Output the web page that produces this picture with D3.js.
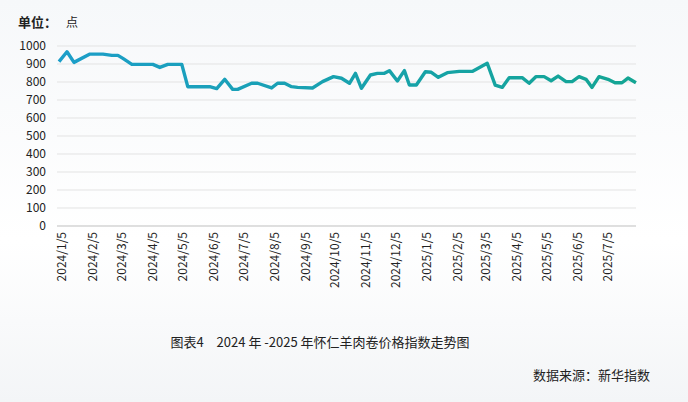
<!DOCTYPE html>
<html><head><meta charset="utf-8">
<script src="https://cdn.jsdelivr.net/npm/d3@7"></script>
<style>body{margin:0;background:#fff;font-family:"Noto Sans CJK SC","Noto Sans",sans-serif;}</style>
</head><body><div id="chart"></div>
<script>
const dates = ["2024-01-02","2024-01-10","2024-01-17","2024-02-02","2024-02-15","2024-02-24","2024-03-01","2024-03-06","2024-03-15","2024-04-05","2024-04-12","2024-04-20","2024-05-04","2024-05-10","2024-06-01","2024-06-08","2024-06-16","2024-06-24","2024-06-29","2024-07-13","2024-07-19","2024-08-02","2024-08-08","2024-08-15","2024-08-22","2024-08-28","2024-09-12","2024-09-22","2024-10-03","2024-10-11","2024-10-19","2024-10-25","2024-10-31","2024-11-09","2024-11-16","2024-11-23","2024-11-28","2024-12-06","2024-12-13","2024-12-18","2024-12-25","2025-01-03","2025-01-09","2025-01-16","2025-01-25","2025-02-06","2025-02-19","2025-03-06","2025-03-14","2025-03-21","2025-03-28","2025-04-10","2025-04-17","2025-04-24","2025-05-02","2025-05-09","2025-05-16","2025-05-24","2025-05-30","2025-06-06","2025-06-13","2025-06-19","2025-06-26","2025-07-05","2025-07-12","2025-07-19","2025-07-25","2025-08-02"];
const values = [913,968,909,955,955,948,948,931,898,898,881,898,898,774,774,763,815,759,759,793,793,767,793,793,774,770,767,802,830,821,793,848,765,839,848,848,863,806,863,783,783,857,854,826,852,859,859,904,783,770,824,824,793,830,830,807,833,802,802,830,815,770,830,815,796,796,822,796];
const tickLabels = ["2024/1/5","2024/2/5","2024/3/5","2024/4/5","2024/5/5","2024/6/5","2024/7/5","2024/8/5","2024/9/5","2024/10/5","2024/11/5","2024/12/5","2025/1/5","2025/2/5","2025/3/5","2025/4/5","2025/5/5","2025/6/5","2025/7/5"];
const yTicks = [0,100,200,300,400,500,600,700,800,900,1000];

const W = 688, H = 402;
const parse = d3.timeParse("%Y-%m-%d"), parseTick = d3.timeParse("%Y/%m/%d");
const data = dates.map((d,i)=>({date:parse(d), value:values[i]}));

const svg = d3.select("#chart").append("svg").attr("width",W).attr("height",H);
const bg = svg.append("defs").append("linearGradient").attr("id","bg").attr("x1",0).attr("y1",0).attr("x2",0).attr("y2",1);
bg.append("stop").attr("offset","0%").attr("stop-color","#f6f8fa");
bg.append("stop").attr("offset","60%").attr("stop-color","#ffffff");
bg.append("stop").attr("offset","100%").attr("stop-color","#f3f5f7");
svg.append("rect").attr("width",W).attr("height",H).attr("fill","url(#bg)");

const x = d3.scaleTime().domain([parseTick("2024/1/5"), parseTick("2025/7/5")]).range([62,608]);
const y = d3.scaleLinear().domain([0,1000]).range([226,46]);
const x0 = 57, x1 = 636;

svg.append("g").selectAll("line").data(yTicks).enter().append("line")
  .attr("x1",x0).attr("x2",x1).attr("y1",d=>y(d)).attr("y2",d=>y(d))
  .attr("stroke",d=>d===0?"#bfbfbf":"#e3e3e3").attr("stroke-width",1);

svg.append("g").selectAll("text").data(yTicks).enter().append("text")
  .attr("x",46).attr("y",d=>y(d)+4).attr("text-anchor","end")
  .attr("font-size",12).attr("fill","#222").text(d=>d);

svg.append("g").selectAll("text").data(tickLabels).enter().append("text")
  .attr("transform",d=>`translate(${x(parseTick(d))+4},232) rotate(-90)`)
  .attr("text-anchor","end").attr("font-size",12).attr("fill","#222").text(d=>d);

const lg = svg.select("defs").append("linearGradient").attr("id","lg")
  .attr("gradientUnits","userSpaceOnUse").attr("x1",x0).attr("x2",x1).attr("y1",0).attr("y2",0);
lg.append("stop").attr("offset","0%").attr("stop-color","#1c9ec9");
lg.append("stop").attr("offset","100%").attr("stop-color","#13a593");

svg.append("path").datum(data)
  .attr("d",d3.line().x(d=>x(d.date)).y(d=>y(d.value)))
  .attr("fill","none").attr("stroke","url(#lg)").attr("stroke-width",3.4).attr("stroke-linejoin","round");

svg.append("text").attr("x",18).attr("y",27).attr("font-size",13).attr("font-weight","bold").attr("fill","#222").text("单位：");
svg.append("text").attr("x",66).attr("y",27).attr("font-size",12).attr("fill","#222").text("点");
svg.append("text").attr("x",320).attr("y",347).attr("text-anchor","middle").attr("font-size",13).attr("fill","#222").text("图表4　2024 年 -2025 年怀仁羊肉卷价格指数走势图");
svg.append("text").attr("x",650).attr("y",380).attr("text-anchor","end").attr("font-size",13).attr("fill","#222").text("数据来源：新华指数");
</script></body></html>
